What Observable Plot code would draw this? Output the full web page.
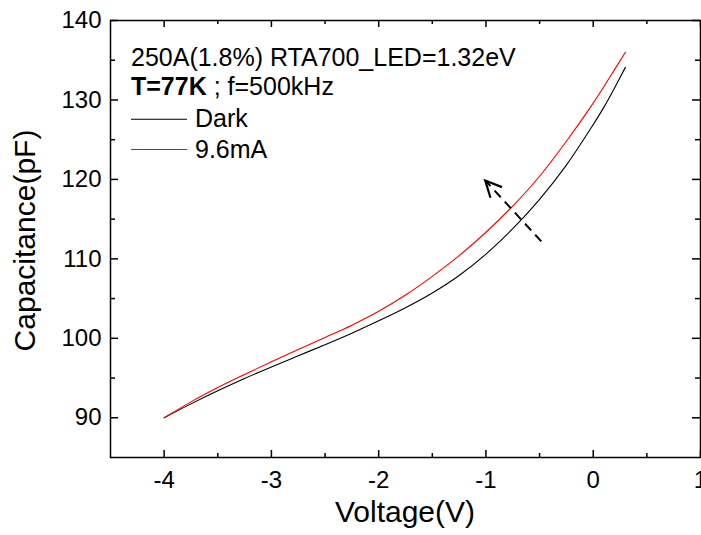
<!DOCTYPE html>
<html>
<head>
<meta charset="utf-8">
<script src="https://cdn.jsdelivr.net/npm/d3@7"></script>
<script src="https://cdn.jsdelivr.net/npm/@observablehq/plot@0.6"></script>
<style>
  html, body { margin: 0; padding: 0; background: #fff; }
  #chart svg { display: block; }
</style>
</head>
<body>
<div id="chart"></div>
<script>
// ---- data ----
const voltage = [-4.0, -3.75, -3.5, -3.25, -3.0, -2.75, -2.5, -2.25, -2.0, -1.75, -1.5, -1.25, -1.0, -0.75, -0.5, -0.25, 0.0, 0.1, 0.2, 0.3];
const darkCap = [90.0, 91.75, 93.4, 94.95, 96.4, 97.8, 99.2, 100.65, 102.2, 103.85, 105.7, 107.9, 110.6, 113.8, 117.5, 121.8, 126.9, 129.1, 131.55, 134.1];
const ledCap  = [90.0, 92.0, 93.8, 95.45, 97.05, 98.6, 100.1, 101.65, 103.4, 105.45, 107.8, 110.4, 113.35, 116.65, 120.4, 124.8, 129.6, 131.7, 133.85, 136.0];

const seriesNames = ["Dark", "9.6mA"];
const seriesColors = ["#000000", "#ff0000"];

const xMajorTicks = [-4, -3, -2, -1, 0, 1];
const xMinorTicks = [-3.5, -2.5, -1.5, -0.5, 0.5];
const yMajorTicks = [90, 100, 110, 120, 130, 140];
const yMinorTicks = [95, 105, 115, 125, 135];

const arrowV = [-0.484, -1.002];   // tail, head
const arrowC = [112.2, 119.8];

const annotationLine1 = "250A(1.8%) RTA700_LED=1.32eV";
const annotationBold = "T=77K";
const annotationRest = " ; f=500kHz";
const xTitle = "Voltage(V)";
const yTitle = "Capacitance(pF)";

// ---- build ----
const W = 701, H = 535;
const M = {top: 20, right: 1, bottom: 78, left: 110};
const frameH = H - M.top - M.bottom;
const frameW = W - M.left - M.right;
const FONT = "Arial, 'Liberation Sans', Helvetica, sans-serif";

const rows = [];
voltage.forEach((v, i) => rows.push({V: v, C: darkCap[i], s: seriesNames[0]}));
voltage.forEach((v, i) => rows.push({V: v, C: ledCap[i], s: seriesNames[1]}));
const arrowRow = [{x1: arrowV[0], y1: arrowC[0], x2: arrowV[1], y2: arrowC[1]}];

const plot = Plot.plot({
  width: W,
  height: H,
  marginTop: M.top,
  marginRight: M.right,
  marginBottom: M.bottom,
  marginLeft: M.left,
  style: {fontFamily: FONT, background: "#fff", color: "#000"},
  x: {domain: [-4.5, 1], axis: null},
  y: {domain: [85, 140], axis: null},
  color: {domain: seriesNames.slice(), range: seriesColors.slice()},
  marks: [
    // inward ticks on all four sides
    Plot.tickX(xMajorTicks, {x: d => d, insetTop: frameH - 7, stroke: "#000", strokeWidth: 1.5}),
    Plot.tickX(xMinorTicks, {x: d => d, insetTop: frameH - 4, stroke: "#000", strokeWidth: 1.5}),
    Plot.tickX(xMajorTicks, {x: d => d, insetBottom: frameH - 7, stroke: "#000", strokeWidth: 1.5}),
    Plot.tickX(xMinorTicks, {x: d => d, insetBottom: frameH - 4, stroke: "#000", strokeWidth: 1.5}),
    Plot.tickY(yMajorTicks, {y: d => d, insetRight: frameW - 8, stroke: "#000", strokeWidth: 1.5}),
    Plot.tickY(yMinorTicks, {y: d => d, insetRight: frameW - 5, stroke: "#000", strokeWidth: 1.5}),
    Plot.tickY(yMajorTicks, {y: d => d, insetLeft: frameW - 8, stroke: "#000", strokeWidth: 1.5}),
    Plot.tickY(yMinorTicks, {y: d => d, insetLeft: frameW - 5, stroke: "#000", strokeWidth: 1.5}),
    // tick labels
    Plot.text(xMajorTicks, {x: d => d, text: d => String(d), frameAnchor: "bottom", lineAnchor: "top", dy: 13, fontSize: 24, fill: "#000"}),
    Plot.text(yMajorTicks, {y: d => d, text: d => String(d), frameAnchor: "left", textAnchor: "end", lineAnchor: "middle", dx: -9, fontSize: 24, fill: "#000"}),
    // data
    Plot.line(rows, {x: "V", y: "C", z: "s", stroke: "s", strokeWidth: 1.1, curve: "catmull-rom"}),
    // dashed arrow shaft
    Plot.link(arrowRow, {x1: "x1", y1: "y1", x2: "x2", y2: "y2", stroke: "#000", strokeWidth: 2, strokeDasharray: "9,6"}),
    Plot.frame({stroke: "#000", strokeWidth: 1.5})
  ]
});

const svg = d3.select(plot);
svg.style("font-family", FONT);

// solid open arrow head at the tip of the dashed arrow (positioned through Plot's scales)
const sx = plot.scale("x"), sy = plot.scale("y");
const tx = sx.apply(arrowV[1]), ty = sy.apply(arrowC[1]);
const bx = sx.apply(arrowV[0]), by = sy.apply(arrowC[0]);
const ang = Math.atan2(by - ty, bx - tx);
const headLen = 18, headHalf = Math.PI / 7;
const w1 = [tx + headLen * Math.cos(ang - headHalf), ty + headLen * Math.sin(ang - headHalf)];
const w2 = [tx + headLen * Math.cos(ang + headHalf), ty + headLen * Math.sin(ang + headHalf)];
svg.append("path")
  .attr("d", `M${w1[0]},${w1[1]}L${tx},${ty}L${w2[0]},${w2[1]}`)
  .attr("fill", "none").attr("stroke", "#000").attr("stroke-width", 2.2);

// annotation text
svg.append("text").attr("x", 131).attr("y", 66).attr("font-size", 25).attr("fill", "#000")
  .attr("text-anchor", "start").attr("font-family", FONT).text(annotationLine1);
const t2 = svg.append("text").attr("x", 131).attr("y", 95).attr("font-size", 25).attr("fill", "#000")
  .attr("text-anchor", "start").attr("font-family", FONT).style("white-space", "pre");
t2.append("tspan").attr("font-weight", "bold").text(annotationBold);
t2.append("tspan").text(annotationRest);

// legend
const legendY = [119.3, 149.5];
seriesNames.forEach((name, i) => {
  svg.append("line").attr("x1", 131).attr("x2", 187).attr("y1", legendY[i]).attr("y2", legendY[i])
    .style("stroke", seriesColors[i]).style("stroke-width", "1.1px");
  svg.append("text").attr("x", 195).attr("y", legendY[i] + 8).attr("font-size", 25).attr("fill", "#000")
    .attr("text-anchor", "start").attr("font-family", FONT).text(name);
});

// axis titles
svg.append("text").attr("x", M.left + frameW / 2).attr("y", 522).attr("text-anchor", "middle")
  .attr("font-size", 30).attr("fill", "#000").attr("font-family", FONT).text(xTitle);
svg.append("text").attr("transform", `translate(35,${M.top + frameH / 2 + 2}) rotate(-90)`).attr("text-anchor", "middle")
  .attr("font-size", 30).attr("fill", "#000").attr("font-family", FONT).text(yTitle);

document.getElementById("chart").appendChild(plot);
</script>
</body>
</html>
